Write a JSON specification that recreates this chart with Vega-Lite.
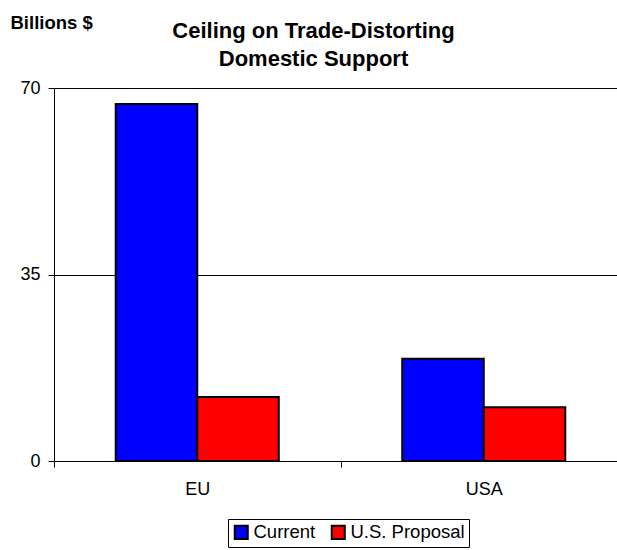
{
  "$schema": "https://vega.github.io/schema/vega-lite/v6.json",
  "autosize": {"type": "none"},
  "padding": {"left": 54, "top": 88, "right": 0, "bottom": 89},
  "width": 573,
  "height": 373,
  "background": "white",
  "config": {
    "font": "Liberation Sans",
    "view": {"stroke": null}
  },
  "title": {
    "text": ["Ceiling on Trade-Distorting", "Domestic Support"],
    "fontSize": 22,
    "fontWeight": "bold",
    "color": "black",
    "anchor": "middle",
    "dx": -27,
    "dy": 58,
    "lineHeight": 28,
    "offset": 0
  },
  "data": {
    "values": [
      {"region": "EU", "series": "Current", "value": 67},
      {"region": "EU", "series": "U.S. Proposal", "value": 12},
      {"region": "USA", "series": "Current", "value": 19.2},
      {"region": "USA", "series": "U.S. Proposal", "value": 10.1}
    ]
  },
  "mark": {"type": "bar", "stroke": "black", "strokeWidth": 2},
  "encoding": {
    "x": {
      "field": "region",
      "type": "nominal",
      "scale": {"paddingInner": 0, "paddingOuter": 0},
      "axis": {
        "title": null,
        "labelAngle": 0,
        "labelFontSize": 18,
        "labelColor": "black",
        "labelPadding": 13,
        "tickBand": "extent",
        "tickColor": "black",
        "tickSize": 6,
        "domainColor": "black",
        "grid": false
      }
    },
    "xOffset": {
      "field": "series",
      "type": "nominal",
      "scale": {"paddingInner": 0, "paddingOuter": 0.757}
    },
    "y": {
      "field": "value",
      "type": "quantitative",
      "scale": {"domain": [0, 70], "nice": false},
      "axis": {
        "values": [0, 35, 70],
        "title": "Billions $",
        "titleAngle": 0,
        "titleAlign": "left",
        "titleBaseline": "middle",
        "titleX": -44,
        "titleY": -66,
        "titleFontSize": 18.5,
        "titleFontWeight": "bold",
        "titleColor": "black",
        "labelFontSize": 18,
        "labelColor": "black",
        "labelPadding": 8,
        "tickColor": "black",
        "tickSize": 6,
        "domainColor": "black",
        "grid": true,
        "gridColor": "black",
        "gridOpacity": 1
      }
    },
    "color": {
      "field": "series",
      "type": "nominal",
      "scale": {"domain": ["Current", "U.S. Proposal"], "range": ["#0000FF", "#FF0000"]},
      "legend": {
        "title": null,
        "orient": "none",
        "legendX": 174,
        "legendY": 431,
        "direction": "horizontal",
        "strokeColor": "black",
        "padding": 4,
        "symbolType": "square",
        "symbolSize": 170,
        "symbolStrokeColor": "black",
        "symbolStrokeWidth": 2,
        "symbolOpacity": 1,
        "labelFontSize": 18.5,
        "labelColor": "black",
        "labelOffset": 3,
        "columnPadding": 11
      }
    }
  }
}
